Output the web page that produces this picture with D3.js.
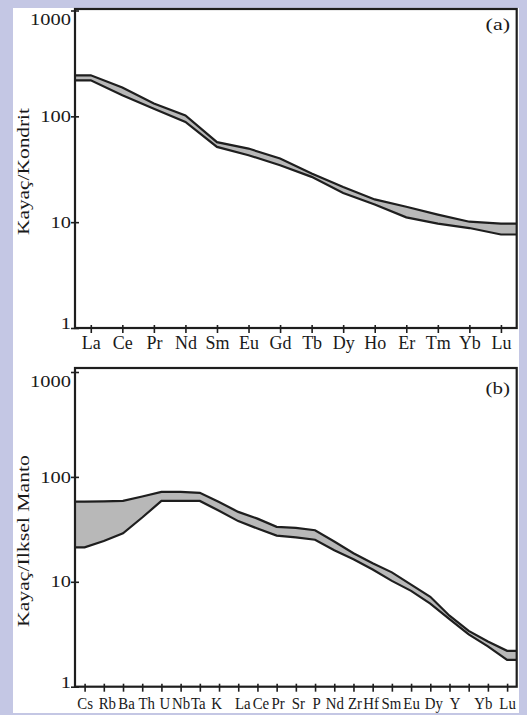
<!DOCTYPE html>
<html>
<head>
<meta charset="utf-8">
<script src="https://cdn.jsdelivr.net/npm/d3@7"></script>
<style>
  html, body { margin: 0; padding: 0; background: #c4c7e4; }
  svg { display: block; }
  text { font-family: "Liberation Serif", "Times New Roman", serif; fill: #1a1a1a; }
</style>
</head>
<body>
<svg id="chart" width="527" height="715"></svg>
<script>
// (a) REE, chondrite normalised: upper and lower bounds of the field
const reeElements = ["La", "Ce", "Pr", "Nd", "Sm", "Eu", "Gd", "Tb", "Dy", "Ho", "Er", "Tm", "Yb", "Lu"];
const reeUpper = [244, 187, 132, 102, 57, 49.6, 39.9, 28.8, 21.5, 16.4, 14.0, 11.8, 10.1, 9.7];
const reeLower = [219, 158, 118, 88.4, 51.4, 42.9, 34.5, 26.8, 18.9, 14.7, 11.1, 9.7, 8.8, 7.65];

// (b) spider diagram, primitive mantle normalised
const spiderElements = ["Cs", "Rb", "Ba", "Th", "U", "Nb", "Ta", "K", "La", "Ce", "Pr", "Sr", "P", "Nd", "Zr", "Hf", "Sm", "Eu", "Ti", "Dy", "Y", "Yb", "Lu"];
// tick labels as they are printed under the axis
const spiderTickLabels = ["Cs", "Rb", "Ba", "Th", "U", "Nb", "Ta", "K", "La", "Ce", "Pr", "Sr", "P", "Nd", "Zr", "Hf", "Sm", "Eu", "Dy", "Y", "", "Yb", "Lu"];
const spiderUpper = [58, 58.5, 59, 65, 72, 72, 70.5, 57.5, 46.4, 40, 33.4, 32.7, 31, 24.2, 18.7, 15, 12.3, 9.4, 7.2, 4.75, 3.4, 2.7, 2.2];
const spiderLower = [21.3, 24.5, 29, 41, 59, 59, 59, 47.5, 37.9, 32.2, 27.6, 26.5, 25.2, 20, 16.4, 13.1, 10.2, 8.2, 6.2, 4.4, 3.15, 2.42, 1.8];

const yTicks = [1, 10, 100, 1000];

const svg = d3.select("#chart");
const ink = "#1e1e1e";

// white sheet
svg.append("rect").attr("x", 13).attr("y", 8).attr("width", 506).attr("height", 705).attr("fill", "#fff");

// labels under panel (b) were set by hand and sit a little off their ticks
const spiderLabelShift = [0, 3, 3, 4, 3, 0, -2, -3, 4, 3, 1, 2, 1, 0, 1, -2, -1, 0, 3, 5, 0, -5, 0];

const panels = [
  {
    tag: "(a)", ylabel: "Kayaç/Kondrit", elements: reeElements, labels: reeElements,
    upper: reeUpper, lower: reeLower, shift: null, squeeze: 1,
    left: 75, right: 516.7, top: 9, bottom: 328, yTop: 10.5,
    xFont: 18, xBase: 21, labelY: 171.5, labelLen: 127, tagY: 30
  },
  {
    tag: "(b)", ylabel: "Kayaç/Ilksel Manto", elements: spiderElements, labels: spiderTickLabels,
    upper: spiderUpper, lower: spiderLower, shift: spiderLabelShift, squeeze: 0.9,
    left: 75, right: 516.7, top: 368, bottom: 686.7, yTop: 372,
    xFont: 16.5, xBase: 22.6, labelY: 541, labelLen: 172, tagY: 393.5
  }
];

panels.forEach(drawPanel);

function drawPanel(p) {
  const g = svg.append("g");

  const x = d3.scalePoint().domain(p.elements).range([p.left, p.right]).padding(0.5);
  const y = d3.scaleLog().domain([1, 1000]).range([p.bottom, p.yTop]);

  // field points, run flat out to the frame on both sides
  const n = p.elements.length;
  const pts = p.elements.map((e, i) => ({ x: x(e), u: p.upper[i], l: p.lower[i] }));
  pts.unshift({ x: p.left, u: p.upper[0], l: p.lower[0] });
  pts.push({ x: p.right, u: p.upper[n - 1], l: p.lower[n - 1] });

  const area = d3.area().x(d => d.x).y0(d => y(d.l)).y1(d => y(d.u));
  const upperLine = d3.line().x(d => d.x).y(d => y(d.u));
  const lowerLine = d3.line().x(d => d.x).y(d => y(d.l));

  g.append("path").attr("d", area(pts)).attr("fill", "#b8b8b8");
  g.append("path").attr("d", upperLine(pts)).attr("fill", "none").attr("stroke", ink).attr("stroke-width", 2.2);
  g.append("path").attr("d", lowerLine(pts)).attr("fill", "none").attr("stroke", ink).attr("stroke-width", 2.2);

  // frame
  g.append("rect")
    .attr("x", p.left).attr("y", p.top)
    .attr("width", p.right - p.left).attr("height", p.bottom - p.top)
    .attr("fill", "none").attr("stroke", ink).attr("stroke-width", 2.2);

  // x axis
  const xAxis = d3.axisBottom(x).tickSizeInner(5).tickSizeOuter(0)
    .tickFormat((d, i) => p.labels[i]);
  const gx = g.append("g").attr("transform", `translate(0,${p.bottom})`).call(xAxis);
  gx.select(".domain").remove();
  gx.selectAll(".tick line").attr("y1", -3).attr("stroke", ink).attr("stroke-width", 1.6);
  gx.selectAll(".tick text")
    .attr("x", (d, i) => (p.shift ? p.shift[i] : 0) / p.squeeze)
    .attr("y", p.xBase).attr("dy", null)
    .attr("transform", `scale(${p.squeeze},1)`)
    .attr("font-family", "Liberation Serif, Times New Roman, serif")
    .attr("font-size", p.xFont).attr("fill", "#1a1a1a");

  // y axis
  const yAxis = d3.axisLeft(y).tickValues(yTicks).tickFormat(d3.format("d"))
    .tickSizeInner(4).tickSizeOuter(0).tickPadding(0);
  const gy = g.append("g").attr("transform", `translate(${p.left},0)`).call(yAxis);
  gy.select(".domain").remove();
  gy.selectAll(".tick line").attr("x1", 4).attr("stroke", ink).attr("stroke-width", 1.6);
  gy.selectAll(".tick text")
    .attr("x", -3.2)
    .attr("dy", d => d === 1000 ? "0.88em" : d === 1 ? "0.06em" : "0.32em")
    .attr("transform", "scale(1.28,1)")
    .attr("font-family", "Liberation Serif, Times New Roman, serif")
    .attr("font-size", 16).attr("fill", "#1a1a1a");

  // axis title
  g.append("text")
    .attr("transform", `translate(28.5,${p.labelY}) rotate(-90)`)
    .attr("text-anchor", "middle")
    .attr("font-size", 17)
    .attr("textLength", p.labelLen)
    .attr("lengthAdjust", "spacingAndGlyphs")
    .text(p.ylabel);

  // panel tag
  g.append("text")
    .attr("x", 485.6).attr("y", p.tagY)
    .attr("font-size", 17)
    .attr("textLength", 24.5)
    .attr("lengthAdjust", "spacingAndGlyphs")
    .text(p.tag);
}
</script>
</body>
</html>
